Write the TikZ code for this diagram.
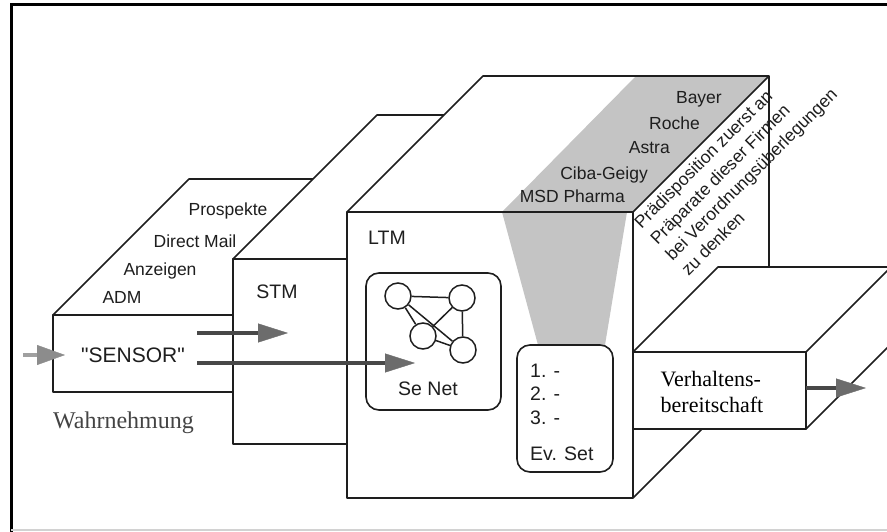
\documentclass[tikz,border=0pt]{standalone}
\usepackage{fontspec}
\setmainfont{Liberation Sans}
\newfontfamily\serifface{Liberation Serif}
\usetikzlibrary{arrows.meta}

\definecolor{ink}{HTML}{1E1E1E}
\definecolor{funnelgray}{HTML}{C4C4C4}
\definecolor{shaft}{HTML}{484848}
\definecolor{tiphead}{HTML}{6C6C6C}
\definecolor{inshaft}{HTML}{A0A0A0}
\definecolor{inhead}{HTML}{8C8C8C}
\definecolor{softtext}{HTML}{444444}

\begin{document}
\begin{tikzpicture}[x=1pt,y=-1pt,
  edge/.style={draw=ink, line width=1.6pt, line join=round},
  face/.style={edge, fill=white},
  panel/.style={draw=ink, line width=1.6pt, rounded corners=13pt, inner sep=0pt},
  knot/.style={circle, draw=ink, line width=1.5pt, minimum size=26pt, inner sep=0pt},
  link/.style={draw=ink, line width=1.5pt},
  txt/.style={inner sep=0pt, text depth=0pt, text height=12.5pt,
    font=\fontsize{17.5}{21}\selectfont, text=ink},
  bigtxt/.style={inner sep=0pt, text depth=0pt, text height=14pt,
    font=\fontsize{19.5}{23}\selectfont, text=ink},
  slanttxt/.style={inner sep=0pt, rotate=45, anchor=west, text depth=0pt,
    text height=12.5pt, font=\fontsize{17.5}{21}\selectfont, text=ink},
  flow/.style={line width=4pt, draw=shaft,
    -{Triangle[length=30pt,width=19pt,line width=0.4pt,fill=tiphead,color=tiphead]}},
  inflow/.style={line width=4pt, draw=inshaft,
    -{Triangle[length=28pt,width=20pt,line width=0.4pt,fill=inhead,color=inhead]}}
]
\useasboundingbox (0,0) rectangle (887,532);
\clip (0,0) rectangle (887,532);

% frame
\draw[line width=3pt, draw=black] (11,532) -- (11,5) -- (887,5);
\draw[line width=1.5pt, draw=gray!35] (11,530) -- (887,530);

% Wahrnehmung block
\draw[face] (53,315) -- (189,179) -- (369,179) -- (233,315) -- cycle;
\draw[face] (53,315) rectangle (233,392);

% STM block
\draw[face] (233,259) -- (377,115) -- (491,115) -- (347,259) -- cycle;
\draw[face] (233,259) rectangle (347,444);

% LTM block: faces, shaded funnel, outlines
\fill[white] (347,212) -- (483,76) -- (769,76) -- (769,362) -- (633,498) -- (347,498) -- cycle;
\fill[funnelgray] (502,212) -- (636,76) -- (769,76) -- (633,212) -- cycle;
\fill[funnelgray] (502,212) -- (627,212) -- (605,345) -- (538,345) -- cycle;
\draw[edge] (347,212) rectangle (633,498);
\draw[edge] (347,212) -- (483,76) -- (769,76) -- (633,212);
\draw[edge] (769,76) -- (769,362) -- (633,498);

% semantic network
\node[panel, minimum width=135pt, minimum height=137pt] (senet) at (433.5,341.5) {};
\node[knot] (n1) at (398,296) {};
\node[knot] (n2) at (462,298) {};
\node[knot] (n3) at (423,336) {};
\node[knot] (n4) at (463,350) {};
\draw[link] (n1) -- (n2);
\draw[link] (n1) -- (n3);
\draw[link] (n1) -- (n4);
\draw[link] (n2) -- (n3);
\draw[link] (n2) -- (n4);
\draw[link] (n3) -- (n4);
\node[bigtxt] (senetlbl) at (428,388) {Se Net};

% evoked set
\node[panel, minimum width=96pt, minimum height=127pt] (evset) at (565,408.5) {};
\node[bigtxt, anchor=west] (e1) at (530,370) {1. -};
\node[bigtxt, anchor=west] (e2) at (530,393) {2. -};
\node[bigtxt, anchor=west] (e3) at (530,417) {3. -};
\node[bigtxt, anchor=west] (evlbl) at (530,453) {Ev. Set};

% Verhaltensbereitschaft block
\draw[face] (633,352) -- (718,267) -- (903,267) -- (818,352) -- cycle;
\draw[face] (806,352) -- (891,267) -- (891,344) -- (806,429) -- cycle;
\draw[face] (633,352) rectangle (806,429);
\node[inner sep=0pt, align=left, text=black, font=\serifface\fontsize{22}{26}\selectfont]
  (vb) at (712,392) {Verhaltens-\\bereitschaft};

% labels
\node[txt] (prosp) at (228,209) {Prospekte};
\node[txt] (dmail) at (195,241) {Direct Mail};
\node[txt] (anz) at (160,269) {Anzeigen};
\node[txt] (adm) at (122,297) {ADM};
\node[bigtxt] (stm) at (277,291) {STM};
\node[bigtxt] (ltm) at (387,237) {LTM};
\node[inner sep=0pt, text depth=0pt, text height=15pt, text=ink,
  font=\fontsize{21}{25}\selectfont] (sensor) at (133,355)
  {\textquotedbl SENSOR\textquotedbl};
\node[inner sep=0pt, anchor=base west, text=softtext,
  font=\serifface\fontsize{24}{28}\selectfont] (wahr) at (53,428) {Wahrnehmung};

\node[txt, anchor=east] (bayer) at (722,97) {Bayer};
\node[txt, anchor=east] (roche) at (700,123) {Roche};
\node[txt, anchor=east] (astra) at (670,147) {Astra};
\node[txt, anchor=east] (ciba) at (648,173) {Ciba-Geigy};
\node[txt, anchor=east] (msd) at (625,196) {MSD Pharma};

% slanted note on the side face of the LTM block
\node[slanttxt] (pr1) at (637,225) {Prädisposition zuerst an};
\node[slanttxt] (pr2) at (653,241) {Präparate dieser Firmen};
\node[slanttxt] (pr3) at (668,257) {bei Verordnungsüberlegungen};
\node[slanttxt] (pr4) at (684,272) {zu denken};

% flows
\coordinate (inStart) at (23,355);
\coordinate (inEnd) at (65,355);
\coordinate (upStart) at (197,333);
\coordinate (upEnd) at (288,333);
\coordinate (loStart) at (197,363);
\coordinate (loEnd) at (415,363);
\coordinate (outStart) at (806,388);
\coordinate (outEnd) at (866,388);
\draw[inflow] (inStart) -- (inEnd);
\draw[flow] (upStart) -- (upEnd);
\draw[flow] (loStart) -- (loEnd);
\draw[flow] (outStart) -- (outEnd);
\end{tikzpicture}
\end{document}
